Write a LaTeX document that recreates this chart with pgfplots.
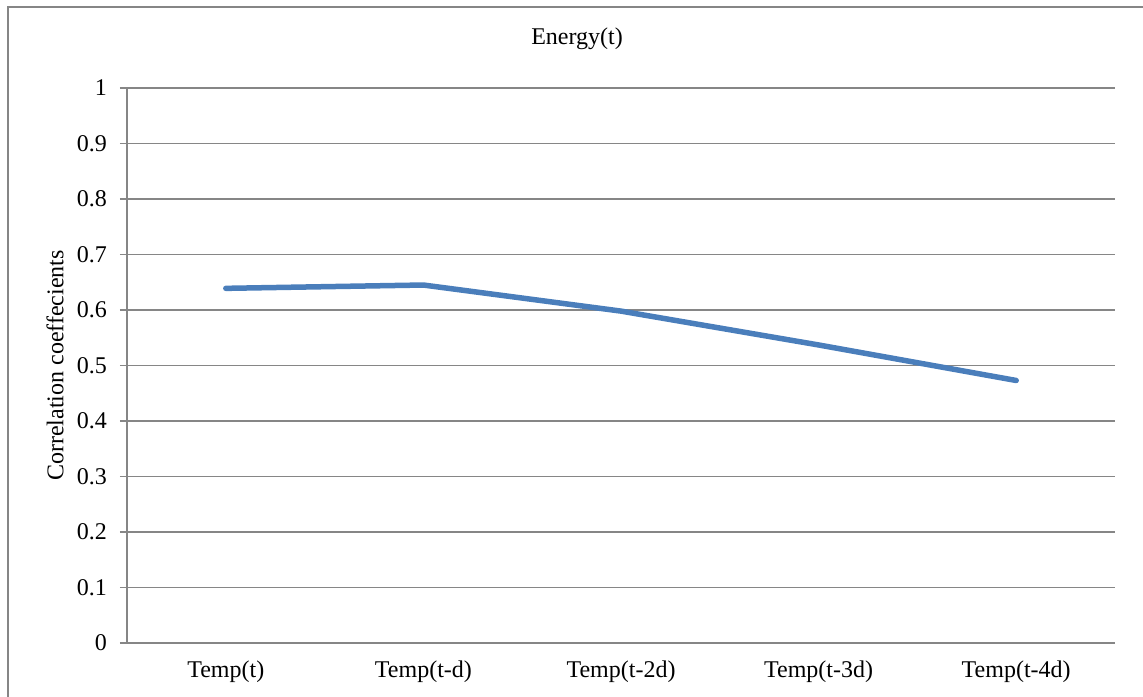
\documentclass[border=0pt]{standalone}
\usepackage{pgfplots}
\pgfplotsset{compat=1.18}
\usepackage{fontspec}
\setmainfont{Liberation Serif}
\definecolor{linecol}{HTML}{4A7EBB}
\definecolor{gridcol}{HTML}{868686}
\newcommand{\chartfont}{\fontsize{24}{28}\selectfont}
\begin{document}
\chartfont
\begin{tikzpicture}
\useasboundingbox (0pt,0pt) rectangle (1143pt,696pt);
\clip (0pt,0pt) rectangle (1143pt,696pt);
% chart frame
\draw[gridcol, line width=2pt] (8pt,-10pt) -- (8pt,689pt) -- (1160pt,689pt);
\begin{axis}[
  at={(127pt,53pt)}, anchor=south west,
  scale only axis, width=988pt, height=555pt,
  xmin=0, xmax=5, ymin=0, ymax=1,
  axis x line=bottom, axis y line=left,
  axis line style={-, gridcol, line width=1.3pt},
  xtick={0.5,1.5,2.5,3.5,4.5},
  xticklabels={Temp(t),Temp(t-d),Temp(t-2d),Temp(t-3d),Temp(t-4d)},
  xtick style={draw=none},
  xticklabel style={yshift=-3pt},
  minor xtick={0,1,2,3,4,5},
  minor tick length=7pt,
  minor tick style={gridcol, line width=1.3pt},
  ytick={0,0.1,...,1.0},
  yticklabels={0,0.1,0.2,0.3,0.4,0.5,0.6,0.7,0.8,0.9,1},
  major tick length=7pt,
  tick align=outside,
  ytick style={gridcol, line width=1.3pt},
  ymajorgrids,
  grid style={gridcol, line width=1.3pt},
  /pgf/number format/assume math mode=true,
  tick label style={font=\chartfont},
  yticklabel style={xshift=-5pt},
  ylabel={Correlation coeffecients},
  ylabel style={at={(axis description cs:-0.0729,0.5)}, anchor=center, font=\chartfont},
  title={Energy(t)},
  title style={at={(axis description cs:0.4555,1.068)}, anchor=base, font=\chartfont},
  clip=false,
]
\addplot[linecol, line width=5.5pt, line cap=round, line join=round, mark=none]
  coordinates {(0.5,0.639) (1.5,0.645) (2.5,0.598) (3.5,0.537) (4.5,0.473)};
\end{axis}
\end{tikzpicture}
\end{document}
